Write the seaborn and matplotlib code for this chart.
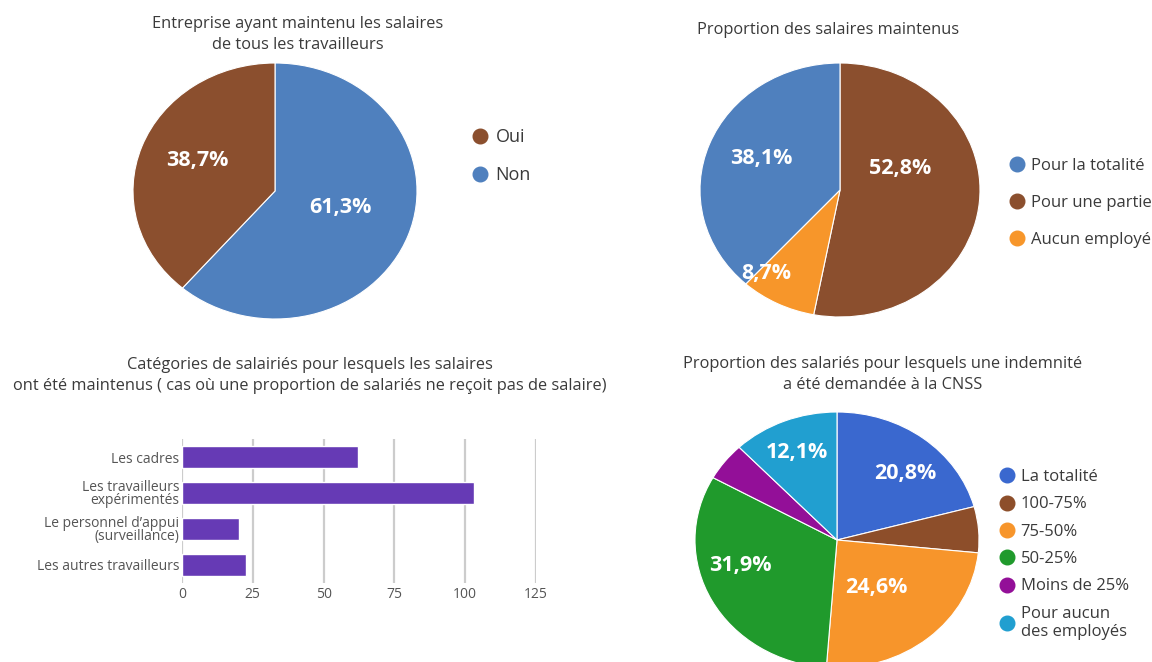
import matplotlib
matplotlib.use("Agg")
import matplotlib.pyplot as plt
from matplotlib.lines import Line2D
import numpy as np
import pandas as pd
import seaborn as sns

# ---- data -------------------------------------------------------------
p1_labels = ["Oui", "Non"]
p1_values = [38.7, 61.3]
p1_colors = ["#8B4F2E", "#4F80BE"]

p2_labels = ["Pour la totalité", "Pour une partie", "Aucun employé"]
p2_values = [38.1, 52.8, 8.7]
p2_colors = ["#4F80BE", "#8B4F2E", "#F7962A"]

bar_categories = ["Les cadres", "Les travailleurs\nexpérimentés",
                  "Le personnel d\u2019appui\n(surveillance)", "Les autres travailleurs"]
bar_values = [62, 103, 20, 22.5]
bar_ticks = [0, 25, 50, 75, 100, 125]

p4_labels = ["La totalité", "100-75%", "75-50%", "50-25%", "Moins de 25%",
             "Pour aucun\ndes employés"]
p4_values = [20.8, 5.8, 24.6, 31.9, 4.8, 12.1]
p4_colors = ["#3A68CF", "#8D4E2A", "#F7952B", "#209A2C", "#930F98", "#219FD0"]

# ---- style ------------------------------------------------------------
sns.set_theme(style="white")
plt.rcParams["font.family"] = ["Open Sans", "DejaVu Sans"]
TXT = "#3a3a3a"
TITLE_FS = 11.8
PCT_FS = 15.5

W, H = 1152, 662
fig = plt.figure(figsize=(W / 100, H / 100), dpi=100)


def box(x0, y0, x1, y1):
    """Pixel rectangle (top-left origin) -> figure fraction rect."""
    return [x0 / W, 1 - y1 / H, (x1 - x0) / W, (y1 - y0) / H]


def fig_pt(x, y):
    return (x / W, 1 - y / H)


def pct_fmt(v):
    return f"{v:.1f}".replace(".", ",") + "%"


def pie_axes(rect, values, colors):
    ax = fig.add_axes(rect)
    # slices run clockwise from 12 o'clock
    ax.pie(values, colors=colors, startangle=90, counterclock=False,
           wedgeprops=dict(linewidth=0.8, edgecolor="white"))
    ax.set_aspect("auto")
    ax.set_xlim(-1, 1)
    ax.set_ylim(-1, 1)
    return ax


def pct_label(ax, x, y, v):
    ax.text(x, y, pct_fmt(v), color="white", fontsize=PCT_FS,
            fontweight="bold", ha="center", va="center")


def title(x, y, s):
    fig.text(*fig_pt(x, y), s, ha="center", va="center",
             fontsize=TITLE_FS, color=TXT)


def draw_legend(labels, colors, anchor, spacing, fontsize):
    handles = [Line2D([0], [0], marker="o", linestyle="", markersize=10.5,
                      markerfacecolor=c, markeredgecolor=c) for c in colors]
    fig.legend(handles, labels, loc="upper left", bbox_to_anchor=fig_pt(*anchor),
               frameon=False, fontsize=fontsize, handlelength=0.9,
               handletextpad=0.4, labelspacing=spacing, borderpad=0,
               borderaxespad=0, labelcolor=TXT)


# ---- pie 1 : Non then Oui clockwise --------------------------------------
ax1 = pie_axes(box(133, 63, 417, 319),
               [p1_values[1], p1_values[0]], [p1_colors[1], p1_colors[0]])
pct_label(ax1, -0.55, 0.24, p1_values[0])
pct_label(ax1, 0.46, -0.13, p1_values[1])
title(298, 24, "Entreprise ayant maintenu les salaires")
title(298, 45, "de tous les travailleurs")
draw_legend(p1_labels, p1_colors, (472, 128), 1.1, 13)

# ---- pie 2 : partie, aucun, totalité clockwise ---------------------------
ax2 = pie_axes(box(700, 63, 980, 317),
               [p2_values[1], p2_values[2], p2_values[0]],
               [p2_colors[1], p2_colors[2], p2_colors[0]])
for v, (x, y) in zip(p2_values, [(-0.56, 0.25), (0.43, 0.17), (-0.53, -0.66)]):
    pct_label(ax2, x, y, v)
title(828, 30, "Proportion des salaires maintenus")
draw_legend(p2_labels, p2_colors, (1009, 158), 1.25, 12)

# ---- bar chart -----------------------------------------------------------
axb = fig.add_axes(box(182, 439, 536, 583))
df = pd.DataFrame({"categorie": bar_categories, "valeur": bar_values})
sns.barplot(data=df, y="categorie", x="valeur", orient="h", color="#663AB5",
            saturation=1, width=0.6, ax=axb)
axb.set_xlim(0, 125)
axb.set_xticks(bar_ticks)
axb.set_xlabel(""); axb.set_ylabel("")
axb.grid(axis="x", color="#cccccc", linewidth=1.6)
axb.set_axisbelow(True)
for s in axb.spines.values():
    s.set_visible(False)
axb.tick_params(axis="both", length=0, labelsize=10, labelcolor="#555555")
axb.tick_params(axis="x", pad=3)
axb.tick_params(axis="y", pad=2)
for t in axb.get_yticklabels():
    t.set_linespacing(0.8)
title(310, 365, "Catégories de salairiés pour lesquels les salaires")
title(310, 386,
      "ont été maintenus ( cas où une proportion de salariés ne reçoit pas de salaire)")

# ---- pie 4 -------------------------------------------------------------
ax4 = pie_axes(box(695, 412, 979, 668), p4_values, p4_colors)
p4_pos = {0: (0.48, 0.52), 2: (0.28, -0.37), 3: (-0.68, -0.2), 5: (-0.28, 0.68)}
for i, (x, y) in p4_pos.items():
    pct_label(ax4, x, y, p4_values[i])
title(883, 364, "Proportion des salariés pour lesquels une indemnité")
title(883, 385, "a été demandée à la CNSS")
draw_legend(p4_labels, p4_colors, (999, 469), 0.68, 12)

fig.savefig("out.png", dpi=100, facecolor="white")
